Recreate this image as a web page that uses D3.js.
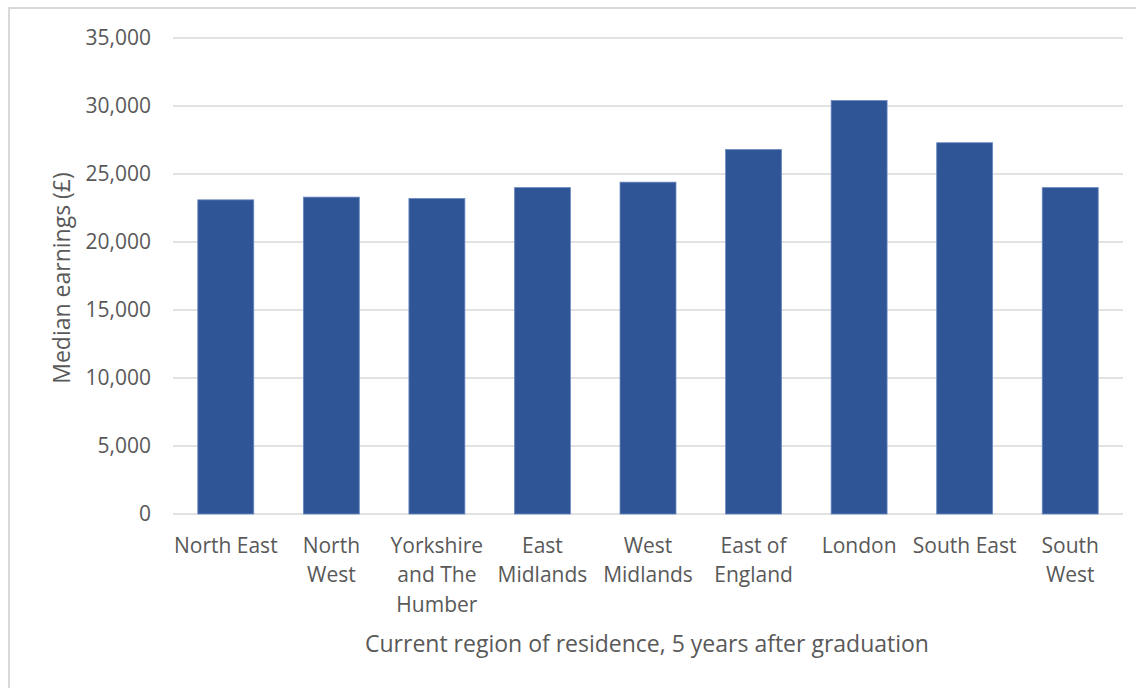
<!DOCTYPE html>
<html>
<head>
<meta charset="utf-8">
<script src="https://cdn.jsdelivr.net/npm/d3@7"></script>
<style>
  html, body { margin: 0; padding: 0; background: #fff; }
  svg { display: block; }
  text { font-family: "Open Sans", "Noto Sans", sans-serif; fill: #595959; }
</style>
</head>
<body>
<svg id="chart" width="1136" height="688"></svg>
<script>
const categories = [
  ["North East"],
  ["North", "West"],
  ["Yorkshire", "and The", "Humber"],
  ["East", "Midlands"],
  ["West", "Midlands"],
  ["East of", "England"],
  ["London"],
  ["South East"],
  ["South", "West"]
];
const values = [23100, 23300, 23200, 24000, 24400, 26800, 30400, 27300, 24000];
const yTicks = [0, 5000, 10000, 15000, 20000, 25000, 30000, 35000];
const yTitle = "Median earnings (£)";
const xTitle = "Current region of residence, 5 years after graduation";

const svg = d3.select("#chart");
const W = 1136, H = 688;
const plot = { left: 173, right: 1123, top: 38, bottom: 514 };

// outer chart border
svg.append("rect")
  .attr("x", 9).attr("y", 8)
  .attr("width", W + 10).attr("height", H + 10)
  .attr("fill", "none").attr("stroke", "#d9d9d9").attr("stroke-width", 2);

const keys = categories.map(c => c.join(" "));
const x = d3.scaleBand().domain(keys).range([plot.left, plot.right]).paddingInner(0.47).paddingOuter(0.235);
const y = d3.scaleLinear().domain([0, 35000]).range([plot.bottom, plot.top]);

// gridlines
svg.append("g").selectAll("line").data(yTicks).join("line")
  .attr("x1", plot.left).attr("x2", plot.right)
  .attr("y1", d => y(d)).attr("y2", d => y(d))
  .attr("stroke", "#d9d9d9").attr("stroke-width", 1.6);

// y axis labels
const yAxis = d3.axisLeft(y).tickValues(yTicks).tickSize(0).tickPadding(0)
  .tickFormat(d3.format(","));
const gy = svg.append("g").attr("transform", `translate(151,0)`).call(yAxis);
gy.select(".domain").remove();
gy.selectAll("text").attr("font-size", 21).attr("fill", "#595959")
  .style("font-family", '"Open Sans", sans-serif');

// bars
svg.append("g").selectAll("rect").data(values).join("rect")
  .attr("x", (d, i) => x(keys[i]))
  .attr("y", d => y(d))
  .attr("width", x.bandwidth())
  .attr("height", d => y(0) - y(d))
  .attr("fill", "#2f5597")
  .attr("stroke", "#6a89c2").attr("stroke-width", 0.8);

// x category labels
const xAxis = d3.axisBottom(x).tickSize(0).tickFormat("");
const gx = svg.append("g").attr("transform", `translate(0,${plot.bottom})`).call(xAxis);
gx.select(".domain").remove();
gx.selectAll(".tick").each(function(d, i) {
  const t = d3.select(this).append("text")
    .attr("text-anchor", "middle").attr("font-size", 21).attr("fill", "#595959");
  categories[i].forEach((line, j) => {
    t.append("tspan").attr("x", 0).attr("y", 39 + j * 29.3).text(line);
  });
});

// axis titles
svg.append("text")
  .attr("x", 647).attr("y", 652)
  .attr("text-anchor", "middle").attr("font-size", 23)
  .text(xTitle);

svg.append("text")
  .attr("transform", "translate(70,278) rotate(-90)")
  .attr("text-anchor", "middle").attr("font-size", 23)
  .text(yTitle);
</script>
</body>
</html>
